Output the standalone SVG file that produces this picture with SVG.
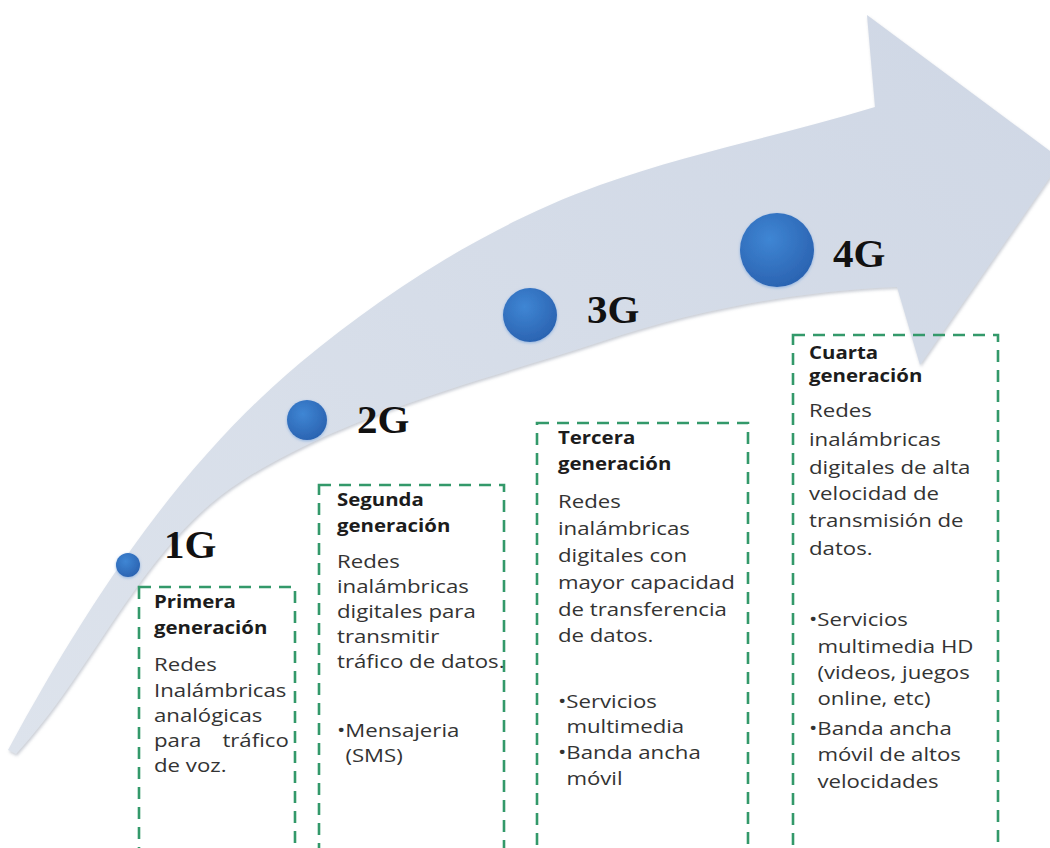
<svg xmlns="http://www.w3.org/2000/svg" width="1050" height="848" viewBox="0 0 1050 848">
  <defs>
    <style>
      .lbl { font-family: "Liberation Serif", "Times New Roman", serif; font-weight: 700; font-size: 41px; fill: #111; }
      .h { font-family: "Open Sans", "Liberation Sans", sans-serif; font-weight: 700; font-size: 17px; fill: #1c1c1c; }
      .t { font-family: "Open Sans", "Liberation Sans", sans-serif; font-size: 18.5px; fill: #333; }
      .box { fill: none; stroke: #33996a; stroke-width: 2.6; stroke-dasharray: 12 8; }
      .dot { fill: url(#dotFill); filter: url(#dotGlow); }
    </style>
    <linearGradient id="bandFill" x1="0" y1="1" x2="1" y2="0">
      <stop offset="0" stop-color="#dde3ec"/>
      <stop offset="1" stop-color="#cfd7e5"/>
    </linearGradient>
    <radialGradient id="dotFill" cx="0.4" cy="0.35" r="0.7">
      <stop offset="0" stop-color="#3f86d4"/>
      <stop offset="1" stop-color="#2a62b0"/>
    </radialGradient>
    <filter id="bandShadow" x="-5%" y="-5%" width="110%" height="110%">
      <feDropShadow dx="1" dy="2" stdDeviation="1.5" flood-color="#8a93a3" flood-opacity="0.45"/>
    </filter>
    <filter id="dotGlow" x="-30%" y="-30%" width="160%" height="160%">
      <feDropShadow dx="0" dy="1" stdDeviation="1.5" flood-color="#6fa0dc" flood-opacity="0.7"/>
    </filter>
  </defs>

  <rect width="1050" height="848" fill="#ffffff"/>

  <!-- curved timeline arrow -->
  <g id="connectors">
    <path id="timeline-arrow" fill="url(#bandFill)" filter="url(#bandShadow)"
      d="M 8 750
         C 86 606 177 466 300 363
         C 389 289 491 224 600 185
         C 689 153 784 135 875 107
         L 867 15
         L 1062 160
         L 920 365
         L 897 287
         C 797 291 695 310 600 342
         C 478 382 351 412 243 480
         C 143 543 98 665 16 754 Z"/>
  </g>

  <!-- 1G -->
  <g id="node-1g">
    <circle class="dot" cx="128" cy="565" r="12"/>
    <text class="lbl" x="164" y="558">1G</text>
    <rect class="box" x="139" y="587" width="156" height="280"/>
    <g transform="translate(154 0) scale(1.2 1)">
      <text class="h" x="0" y="608">Primera</text>
      <text class="h" x="0" y="634">generación</text>
      <text class="t" x="0" y="671">Redes</text>
      <text class="t" x="0" y="697">Inalámbricas</text>
      <text class="t" x="0" y="722">analógicas</text>
      <text class="t" x="0" y="747">para<tspan x="57">tráfico</tspan></text>
      <text class="t" x="0" y="772">de voz.</text>
    </g>
  </g>

  <!-- 2G -->
  <g id="node-2g">
    <circle class="dot" cx="307" cy="420" r="20"/>
    <text class="lbl" x="357" y="433">2G</text>
    <rect class="box" x="319" y="485" width="185" height="380"/>
    <g transform="translate(337 0) scale(1.2 1)">
      <text class="h" x="0" y="506">Segunda</text>
      <text class="h" x="0" y="532">generación</text>
      <text class="t" x="0" y="568">Redes</text>
      <text class="t" x="0" y="593">inalámbricas</text>
      <text class="t" x="0" y="618">digitales para</text>
      <text class="t" x="0" y="643">transmitir</text>
      <text class="t" x="0" y="668">tráfico de datos.</text>
      <text class="t" x="0" y="737">•Mensajeria</text>
      <text class="t" x="7" y="762">(SMS)</text>
    </g>
  </g>

  <!-- 3G -->
  <g id="node-3g">
    <circle class="dot" cx="530" cy="315" r="27"/>
    <text class="lbl" x="587" y="323">3G</text>
    <rect class="box" x="537" y="423" width="211" height="440"/>
    <g transform="translate(558 0) scale(1.2 1)">
      <text class="h" x="0" y="444">Tercera</text>
      <text class="h" x="0" y="470">generación</text>
      <text class="t" x="0" y="508">Redes</text>
      <text class="t" x="0" y="535">inalámbricas</text>
      <text class="t" x="0" y="562">digitales con</text>
      <text class="t" x="0" y="589">mayor capacidad</text>
      <text class="t" x="0" y="616">de transferencia</text>
      <text class="t" x="0" y="642">de datos.</text>
      <text class="t" x="0" y="708">•Servicios</text>
      <text class="t" x="7" y="733">multimedia</text>
      <text class="t" x="0" y="759">•Banda ancha</text>
      <text class="t" x="7" y="785">móvil</text>
    </g>
  </g>

  <!-- 4G -->
  <g id="node-4g">
    <circle class="dot" cx="777" cy="250" r="37"/>
    <text class="lbl" x="833" y="267">4G</text>
    <rect class="box" x="793" y="335" width="205" height="530"/>
    <g transform="translate(809 0) scale(1.2 1)">
      <text class="h" x="0" y="359">Cuarta</text>
      <text class="h" x="0" y="382">generación</text>
      <text class="t" x="0" y="417">Redes</text>
      <text class="t" x="0" y="446">inalámbricas</text>
      <text class="t" x="0" y="474">digitales de alta</text>
      <text class="t" x="0" y="500">velocidad de</text>
      <text class="t" x="0" y="527">transmisión de</text>
      <text class="t" x="0" y="555">datos.</text>
      <text class="t" x="0" y="626">•Servicios</text>
      <text class="t" x="7" y="653">multimedia HD</text>
      <text class="t" x="7" y="679">(videos, juegos</text>
      <text class="t" x="7" y="705">online, etc)</text>
      <text class="t" x="0" y="735">•Banda ancha</text>
      <text class="t" x="7" y="761">móvil de altos</text>
      <text class="t" x="7" y="788">velocidades</text>
    </g>
  </g>
</svg>
